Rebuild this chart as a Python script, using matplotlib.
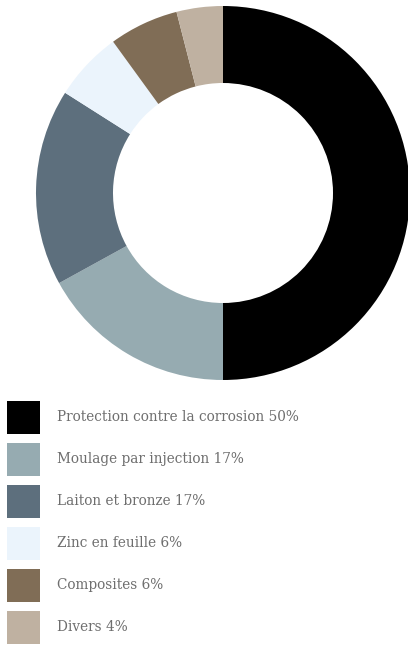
import matplotlib.pyplot as plt
from matplotlib.patches import Rectangle

labels = ["Protection contre la corrosion", "Moulage par injection", "Laiton et bronze",
          "Zinc en feuille", "Composites", "Divers"]
shares = [50, 17, 17, 6, 6, 4]
colors = ["#000000", "#96abb1", "#5d6f7d", "#ebf4fc", "#806d56", "#bfb1a1"]

W, H = 408, 650
fig = plt.figure(figsize=(W / 100, H / 100), dpi=100)

# donut: centre (223, 193) px, outer r 187, inner r 110
cx, cy, r_out, r_in = 223, 193, 187, 110
ax = fig.add_axes([(cx - r_out) / W, 1 - (cy + r_out) / H, 2 * r_out / W, 2 * r_out / H])
ax.pie(shares, colors=colors, startangle=90, counterclock=False,
       wedgeprops=dict(width=(r_out - r_in) / r_out, linewidth=0))
ax.set_xlim(-1, 1)
ax.set_ylim(-1, 1)
ax.set_aspect("equal")
ax.axis("off")

# legend in pixel coords
lg = fig.add_axes([0, 0, 1, 1])
lg.set_xlim(0, W)
lg.set_ylim(H, 0)
lg.axis("off")
for i, (lab, v, c) in enumerate(zip(labels, shares, colors)):
    yc = 417 + i * 42
    lg.add_patch(Rectangle((7, yc - 16.5), 33, 33, color=c, lw=0))
    lg.text(57, yc, f"{lab} {v}%", va="center", ha="left", fontsize=9.8,
            family="DejaVu Serif", color="#6e6e6e")

fig.savefig("out.png", dpi=100)
